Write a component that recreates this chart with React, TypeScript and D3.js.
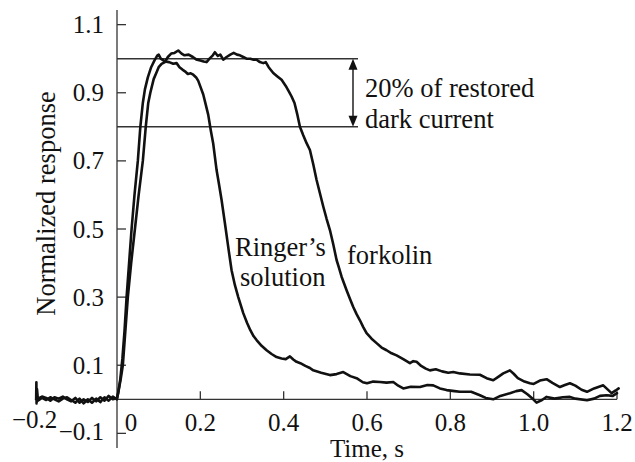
import React from "react";
import * as d3 from "d3";

const xTicks = [0.2, 0.4, 0.6, 0.8, 1.0, 1.2];
const xTickLabels = ["0.2", "0.4", "0.6", "0.8", "1.0", "1.2"];
const yTicks = [1.1, 0.9, 0.7, 0.5, 0.3, 0.1, -0.1];
const yTickLabels = ["1.1", "0.9", "0.7", "0.5", "0.3", "0.1", "\u22120.1"];
const refLevels = [1.0, 0.8];

const ringerPre: [number, number][] = [
  [-0.194, 0.0], [-0.1935, 0.05], [-0.193, -0.012], [-0.192, 0.03], [-0.19, 0.002],
  [-0.18, 0.008], [-0.17, 0.004], [-0.16, -0.004], [-0.15, 0.006], [-0.14, 0.002],
  [-0.13, 0.008], [-0.12, 0.0], [-0.11, -0.006], [-0.1, 0.004], [-0.09, -0.01],
  [-0.08, 0.0], [-0.07, -0.008], [-0.06, 0.004], [-0.05, -0.006], [-0.04, 0.006],
  [-0.03, -0.004], [-0.02, 0.01], [-0.01, 0.0], [0, 0.004],
];
const ringer: [number, number][] = [
  [0.003, 0.02], [0.008, 0.06], [0.013, 0.12], [0.018, 0.2], [0.023, 0.3], [0.029, 0.4],
  [0.035, 0.5], [0.042, 0.6], [0.05, 0.7], [0.056, 0.8], [0.062, 0.87], [0.067, 0.91],
  [0.074, 0.945], [0.082, 0.975], [0.09, 0.995], [0.097, 1.01], [0.1, 1.012], [0.105, 1.0],
  [0.115, 0.992], [0.125, 0.99], [0.135, 0.985], [0.143, 0.987], [0.15, 0.975], [0.157, 0.968],
  [0.163, 0.963], [0.17, 0.955], [0.177, 0.957], [0.183, 0.953], [0.19, 0.945], [0.195, 0.935],
  [0.201, 0.915], [0.207, 0.895], [0.213, 0.865], [0.219, 0.835], [0.225, 0.79], [0.231, 0.75],
  [0.239, 0.673], [0.245, 0.63], [0.251, 0.585], [0.259, 0.517], [0.268, 0.438], [0.275, 0.379],
  [0.283, 0.335], [0.291, 0.3], [0.303, 0.253], [0.312, 0.225], [0.32, 0.203], [0.328, 0.185],
  [0.335, 0.174], [0.347, 0.157], [0.359, 0.144], [0.371, 0.133], [0.383, 0.124], [0.395, 0.12],
  [0.405, 0.118], [0.415, 0.126], [0.423, 0.117], [0.431, 0.11], [0.44, 0.106], [0.452, 0.098],
  [0.463, 0.092], [0.471, 0.085], [0.49, 0.078], [0.511, 0.071], [0.527, 0.074], [0.543, 0.08],
  [0.56, 0.068], [0.575, 0.062], [0.59, 0.05], [0.6, 0.047], [0.615, 0.052], [0.631, 0.051],
  [0.647, 0.049], [0.663, 0.051], [0.675, 0.04], [0.687, 0.032], [0.705, 0.037], [0.727, 0.036],
  [0.745, 0.042], [0.759, 0.041], [0.775, 0.032], [0.791, 0.027], [0.81, 0.024], [0.823, 0.022],
  [0.85, 0.022], [0.871, 0.012], [0.885, 0.004], [0.903, 0.0], [0.92, 0.01], [0.943, 0.018],
  [0.958, 0.024], [0.971, 0.027], [0.985, 0.015], [0.999, 0.0], [1.007, -0.01], [1.02, -0.002],
  [1.031, 0.007], [1.05, 0.002], [1.07, 0.006], [1.087, 0.007], [1.1, 0.002], [1.128, -0.003],
  [1.145, 0.002], [1.159, 0.01], [1.175, 0.012], [1.19, 0.01], [1.2, 0.018],
];
const forkolinPre: [number, number][] = [
  [-0.194, 0.0], [-0.19, -0.004], [-0.18, 0.004], [-0.17, -0.002], [-0.16, 0.006],
  [-0.15, 0.0], [-0.14, -0.006], [-0.13, 0.002], [-0.12, 0.006], [-0.11, -0.002],
  [-0.1, -0.01], [-0.09, 0.002], [-0.08, -0.012], [-0.07, 0.0], [-0.06, -0.01],
  [-0.05, 0.002], [-0.04, -0.008], [-0.03, 0.006], [-0.02, -0.004], [-0.01, 0.008], [0, 0.0],
];
const forkolin: [number, number][] = [
  [0.003, 0.02], [0.009, 0.06], [0.014, 0.1], [0.02, 0.2], [0.026, 0.3], [0.034, 0.4],
  [0.043, 0.5], [0.052, 0.6], [0.062, 0.7], [0.069, 0.8], [0.075, 0.87], [0.08, 0.9],
  [0.088, 0.94], [0.095, 0.96], [0.1, 0.975], [0.107, 0.985], [0.115, 0.99], [0.122, 1.005],
  [0.13, 1.015], [0.138, 1.017], [0.147, 1.024], [0.155, 1.015], [0.162, 1.01], [0.172, 1.012],
  [0.182, 1.005], [0.19, 0.998], [0.2, 0.995], [0.208, 0.992], [0.215, 0.99], [0.222, 1.0],
  [0.23, 1.01], [0.235, 1.019], [0.242, 1.008], [0.248, 1.012], [0.255, 0.997], [0.263, 1.005],
  [0.272, 1.012], [0.28, 1.017], [0.288, 1.012], [0.295, 1.01], [0.303, 1.005], [0.311, 1.0],
  [0.32, 1.0], [0.328, 0.997], [0.335, 0.997], [0.343, 0.99], [0.351, 0.987], [0.357, 0.99],
  [0.364, 0.975], [0.375, 0.958], [0.385, 0.948], [0.395, 0.938], [0.405, 0.92], [0.412, 0.905],
  [0.419, 0.889], [0.426, 0.87], [0.433, 0.835], [0.439, 0.8], [0.447, 0.775], [0.455, 0.752],
  [0.463, 0.732], [0.471, 0.69], [0.479, 0.644], [0.487, 0.605], [0.495, 0.566], [0.503, 0.53],
  [0.511, 0.497], [0.519, 0.455], [0.527, 0.409], [0.533, 0.385], [0.539, 0.36], [0.545, 0.34],
  [0.551, 0.32], [0.559, 0.295], [0.567, 0.271], [0.575, 0.25], [0.583, 0.232], [0.591, 0.212],
  [0.599, 0.194], [0.611, 0.178], [0.623, 0.165], [0.635, 0.152], [0.647, 0.144], [0.659, 0.135],
  [0.671, 0.129], [0.687, 0.118], [0.703, 0.106], [0.711, 0.112], [0.719, 0.11], [0.73, 0.098],
  [0.741, 0.09], [0.751, 0.085], [0.765, 0.088], [0.78, 0.082], [0.795, 0.078], [0.807, 0.08],
  [0.823, 0.076], [0.847, 0.073], [0.871, 0.072], [0.887, 0.062], [0.903, 0.056], [0.915, 0.066],
  [0.927, 0.076], [0.943, 0.085], [0.952, 0.075], [0.962, 0.062], [0.978, 0.052], [0.991, 0.047],
  [1.0, 0.045], [1.015, 0.055], [1.031, 0.059], [1.045, 0.048], [1.063, 0.036], [1.075, 0.042],
  [1.087, 0.047], [1.1, 0.04], [1.115, 0.028], [1.128, 0.022], [1.145, 0.032], [1.167, 0.041],
  [1.187, 0.018], [1.197, 0.026], [1.204, 0.032],
];

const W = 635;
const H = 462;
const FONT = '"Liberation Serif", "Times New Roman", Times, "DejaVu Serif", serif';

export default function App() {
  const x = d3.scaleLinear().domain([0, 1.2]).range([117, 617]);
  const y = d3.scaleLinear().domain([0, 1.0]).range([399.3, 58.7]);
  const line = d3
    .line<[number, number]>()
    .x((d) => x(d[0]))
    .y((d) => y(d[1]));
  const traces = [ringerPre.concat(ringer), forkolinPre.concat(forkolin)];
  const axisColor = "#333";
  const arrowX = 353;
  const yTop = y(refLevels[0]);
  const yBot = y(refLevels[1]);
  const ts: React.CSSProperties = { fontFamily: FONT, fontSize: 25 };
  const tl: React.CSSProperties = { fontFamily: FONT, fontSize: 26.5 };

  return (
    <svg
      width={W}
      height={H}
      style={{ position: "absolute", left: 0, top: 0, background: "#fff" }}
    >
      <rect width={W} height={H} fill="#fff" />
      {/* y axis */}
      <line x1={x(0)} x2={x(0)} y1={10} y2={448} stroke={axisColor} strokeWidth={1.3} />
      {yTicks.map((t) => (
        <line key={"yt" + t} x1={x(0)} x2={x(0) + 9} y1={y(t)} y2={y(t)} stroke={axisColor} strokeWidth={1.3} />
      ))}
      {yTicks.map((t, i) => (
        <text
          key={"yl" + t}
          x={104}
          y={y(t) + (t < 0 ? 7 : 8.5)}
          textAnchor="end"
          style={ts}
          fill="#111"
        >
          {yTickLabels[i]}
        </text>
      ))}
      {/* x axis */}
      <line x1={x(0)} x2={x(1.2)} y1={y(0)} y2={y(0)} stroke={axisColor} strokeWidth={1.3} />
      {xTicks.map((t) => (
        <line key={"xt" + t} x1={x(t)} x2={x(t)} y1={y(0)} y2={y(0) - 8} stroke={axisColor} strokeWidth={1.3} />
      ))}
      {xTicks.map((t, i) => (
        <text key={"xl" + t} x={x(t)} y={431} textAnchor="middle" style={ts} fill="#111">
          {xTickLabels[i]}
        </text>
      ))}
      <text x={x(-0.2) + 1} y={428} textAnchor="middle" style={ts} fill="#111">
        {"\u22120.2"}
      </text>
      <text x={131} y={431} textAnchor="middle" style={ts} fill="#111">
        0
      </text>
      <text x={x(0.6)} y={457} textAnchor="middle" style={ts} fill="#111">
        Time, s
      </text>
      <text
        transform={`translate(55,203.5) rotate(-90)`}
        textAnchor="middle"
        style={tl}
        fill="#111"
      >
        Normalized response
      </text>
      {/* reference lines */}
      {refLevels.map((r) => (
        <line key={"r" + r} x1={x(0)} x2={358} y1={y(r)} y2={y(r)} stroke={axisColor} strokeWidth={1.4} />
      ))}
      <line x1={arrowX} x2={arrowX} y1={yTop + 6} y2={yBot - 6} stroke="#111" strokeWidth={1.4} />
      <path d={`M${arrowX},${yTop} L${arrowX - 4.5},${yTop + 11} L${arrowX + 4.5},${yTop + 11} Z`} fill="#111" />
      <path d={`M${arrowX},${yBot} L${arrowX - 4.5},${yBot - 11} L${arrowX + 4.5},${yBot - 11} Z`} fill="#111" />
      <text x={365} y={97} style={tl} fill="#111">
        20% of restored
      </text>
      <text x={365} y={128} style={tl} fill="#111">
        dark current
      </text>
      {/* traces */}
      {traces.map((tr, i) => (
        <path
          key={"tr" + i}
          d={line(tr) || ""}
          fill="none"
          stroke="#111"
          strokeWidth={2.6}
          strokeLinejoin="round"
          strokeLinecap="round"
        />
      ))}
      <text x={235} y={256} style={tl} fill="#111">
        Ringer’s
      </text>
      <text x={240} y={286} style={tl} fill="#111">
        solution
      </text>
      <text x={347} y={264} style={tl} fill="#111">
        forkolin
      </text>
    </svg>
  );
}
